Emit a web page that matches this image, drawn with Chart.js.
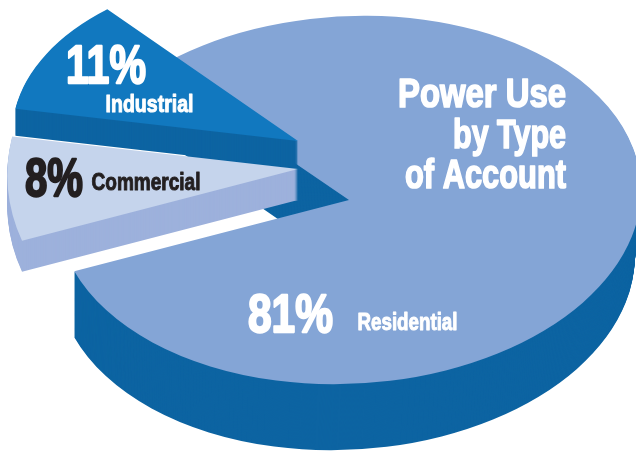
<!DOCTYPE html>
<html>
<head>
<meta charset="utf-8">
<style>html,body{margin:0;padding:0;background:#fff}canvas{display:block}</style>
<script src="https://cdn.jsdelivr.net/npm/chart.js@4"></script>
</head>
<body>
<canvas id="c" width="636" height="451"></canvas>
<script>
// Data
const categories = ['Residential', 'Commercial', 'Industrial'];
const shares = [81, 8, 11];
const titleLines = ['Power Use', 'by Type', 'of Account'];

// Styles
const topColors = ['#84a5d6', '#c5d4ec', '#1178bf'];
const sideColors = ['#0d64a2', '#9db1dc', '#0d64a2'];
const startRotation = -41.4;

// Pseudo-3D view of the pie: one tilted ellipse, each slice pulled out of it
const tilt = { rx: 292, ry: 184, shear: -9.46 };
const sliceView = [
  { x: 349, y: 200, depth: 66, taper: 0.011, anchor: 74, turn: 0, stretch: 1, radial: 1 },
  { x: 298, y: 169, depth: 31, taper: 0, anchor: 0, turn: 2, stretch: 1.146, radial: 0.995 },
  { x: 298, y: 141, depth: 27, taper: 0, anchor: 0, turn: 2.2, stretch: 0.9025, radial: 1.005 }
];

// Text layout: x, baseline, font size, target width
const titleLayout = [
  { r: 566, y: 107, size: 40, w: 168 },
  { r: 566, y: 147.5, size: 40, w: 113 },
  { r: 566, y: 187.5, size: 40, w: 161 }
];
const labelLayout = [
  { pct: { x: 248, y: 332, size: 54, w: 85 }, name: { x: 357.5, y: 329.5, size: 23.5, w: 100 }, color: '#ffffff' },
  { pct: { x: 25, y: 196, size: 54, w: 58 }, name: { x: 91.5, y: 189.5, size: 24.5, w: 109 }, color: '#231f20' },
  { pct: { x: 66, y: 83, size: 54, w: 80 }, name: { x: 105.5, y: 111.5, size: 24.5, w: 88 }, color: '#ffffff' }
];

function fitText(ctx, text, left, base, size, width, color) {
  ctx.save();
  ctx.font = 'bold ' + size + 'px "Liberation Sans", Arial, sans-serif';
  ctx.textBaseline = 'alphabetic';
  ctx.textAlign = 'left';
  const natural = ctx.measureText(text).width;
  ctx.translate(left, base);
  ctx.scale(width / natural, 1);
  ctx.fillStyle = color;
  ctx.strokeStyle = color;
  ctx.lineWidth = size * 0.042;
  ctx.lineJoin = 'round';
  ctx.fillText(text, 0, 0);
  ctx.strokeText(text, 0, 0);
  ctx.restore();
}

function placeSlice(ctx, arc, view, drop, taperNow) {
  ctx.translate(view.anchor, 0);
  ctx.scale(1 - taperNow, 1);
  ctx.translate(-view.anchor, 0);
  ctx.translate(view.x, view.y + drop);
  ctx.transform(tilt.rx, tilt.shear, 0, tilt.ry, 0, 0);
  const mid = (arc.startAngle + arc.endAngle) / 2;
  ctx.rotate(mid + view.turn * Math.PI / 180);
  ctx.scale(view.radial, view.stretch);
  ctx.rotate(-mid);
  ctx.scale(1 / arc.outerRadius, 1 / arc.outerRadius);
  ctx.translate(-arc.x, -arc.y);
}

const pie3d = {
  id: 'pie3d',
  beforeDatasetsDraw(chart) {
    const ctx = chart.ctx;
    const arcs = chart.getDatasetMeta(0).data;
    arcs.forEach((arc, i) => {
      const view = sliceView[i];
      const base = arc.options;
      const side = Object.create(base);
      side.backgroundColor = sideColors[i];
      arc.options = side;
      for (let d = view.depth; d >= 1; d--) {
        ctx.save();
        placeSlice(ctx, arc, view, d, view.taper * d / view.depth);
        arc.draw(ctx);
        ctx.restore();
      }
      arc.options = base;
      ctx.save();
      placeSlice(ctx, arc, view, 0, 0);
      arc.draw(ctx);
      ctx.restore();
    });
    titleLines.forEach((line, i) => {
      const t = titleLayout[i];
      fitText(ctx, line, t.r - t.w, t.y, t.size, t.w, '#ffffff');
    });
    categories.forEach((name, i) => {
      const l = labelLayout[i];
      fitText(ctx, shares[i] + '%', l.pct.x, l.pct.y, l.pct.size, l.pct.w, l.color);
      fitText(ctx, name, l.name.x, l.name.y, l.name.size, l.name.w, l.color);
    });
    return false;
  }
};

new Chart(document.getElementById('c'), {
  type: 'pie',
  data: {
    labels: categories,
    datasets: [{ data: shares, backgroundColor: topColors, borderWidth: 0 }]
  },
  options: {
    responsive: false,
    animation: false,
    rotation: startRotation,
    layout: { padding: 0 },
    plugins: { legend: { display: false }, tooltip: { enabled: false } }
  },
  plugins: [pie3d]
});
</script>
</body>
</html>
